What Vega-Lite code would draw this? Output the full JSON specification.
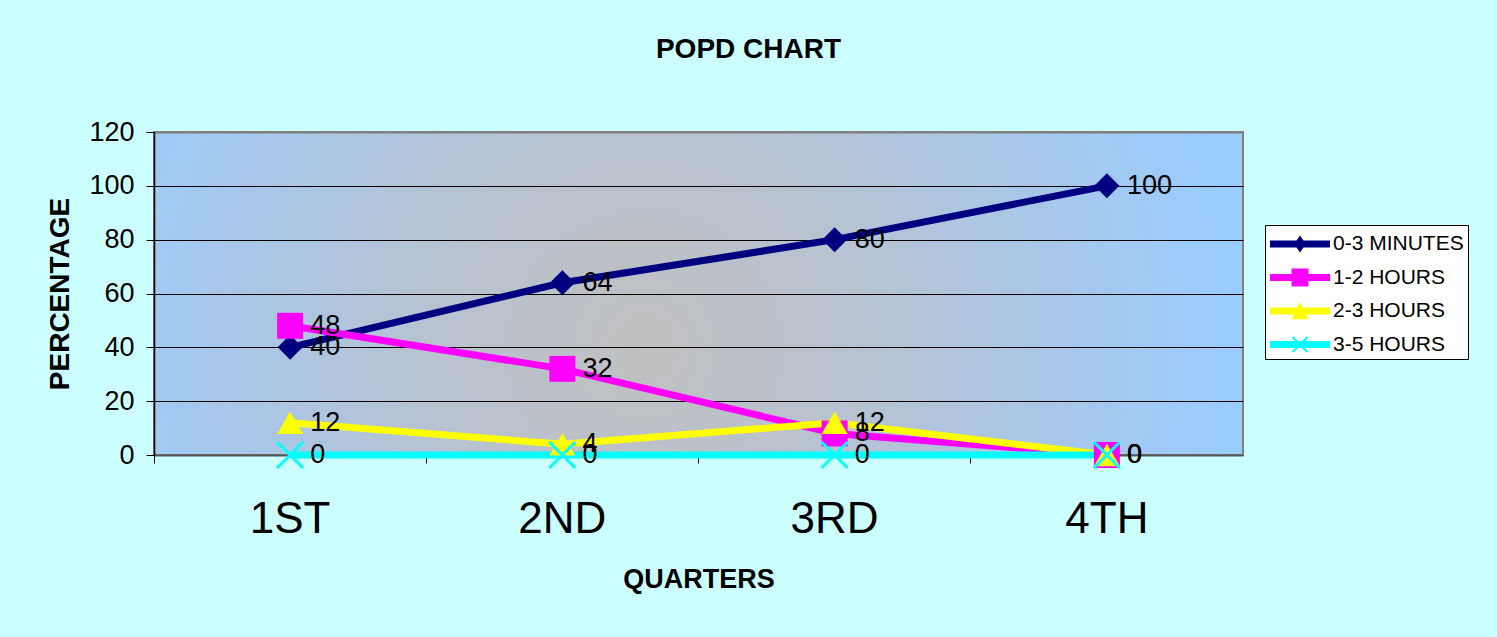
{
  "$schema": "https://vega.github.io/schema/vega-lite/v6.json",
  "width": 1089,
  "height": 323,
  "autosize": {"type": "none"},
  "padding": {"left": 154, "top": 132, "right": 254, "bottom": 182},
  "background": "#CCFFFF",
  "config": {
    "font": "Liberation Sans",
    "view": {
      "fill": {
        "gradient": "radial",
        "x1": 0.45, "y1": 0.55, "r1": 0,
        "x2": 0.45, "y2": 0.55, "r2": 0.55,
        "stops": [
          {"offset": 0, "color": "#C0C0C0"},
          {"offset": 0.35, "color": "#B8C2D0"},
          {"offset": 1, "color": "#99CCFF"}
        ]
      },
      "stroke": "#808080",
      "strokeWidth": 2
    }
  },
  "title": {
    "text": "POPD CHART",
    "fontSize": 28,
    "fontWeight": "bold",
    "color": "#000000",
    "anchor": "middle",
    "dx": 50,
    "offset": 54
  },
  "data": {
    "values": [
      {"quarter": "1ST", "series": "0-3 MINUTES", "value": 40},
      {"quarter": "2ND", "series": "0-3 MINUTES", "value": 64},
      {"quarter": "3RD", "series": "0-3 MINUTES", "value": 80},
      {"quarter": "4TH", "series": "0-3 MINUTES", "value": 100},
      {"quarter": "1ST", "series": "1-2 HOURS", "value": 48},
      {"quarter": "2ND", "series": "1-2 HOURS", "value": 32},
      {"quarter": "3RD", "series": "1-2 HOURS", "value": 8},
      {"quarter": "4TH", "series": "1-2 HOURS", "value": 0},
      {"quarter": "1ST", "series": "2-3 HOURS", "value": 12},
      {"quarter": "2ND", "series": "2-3 HOURS", "value": 4},
      {"quarter": "3RD", "series": "2-3 HOURS", "value": 12},
      {"quarter": "4TH", "series": "2-3 HOURS", "value": 0},
      {"quarter": "1ST", "series": "3-5 HOURS", "value": 0},
      {"quarter": "2ND", "series": "3-5 HOURS", "value": 0},
      {"quarter": "3RD", "series": "3-5 HOURS", "value": 0},
      {"quarter": "4TH", "series": "3-5 HOURS", "value": 0}
    ]
  },
  "encoding": {
    "x": {
      "field": "quarter", "type": "nominal",
      "sort": ["1ST", "2ND", "3RD", "4TH"],
      "scale": {"type": "band", "paddingInner": 0, "paddingOuter": 0},
      "axis": null
    },
    "y": {
      "field": "value", "type": "quantitative",
      "scale": {"domain": [0, 120]},
      "axis": {
        "values": [0, 20, 40, 60, 80, 100, 120],
        "grid": true,
        "gridColor": {"condition": {"test": "datum.value === 120", "value": "#808080"}, "value": "#000000"},
        "gridWidth": {"condition": {"test": "datum.value === 120", "value": 2}, "value": 1},
        "gridOpacity": 1,
        "domainColor": "#000000", "domainWidth": 1.5,
        "tickColor": "#000000", "tickSize": 8, "tickWidth": 1,
        "labelFontSize": 27, "labelPadding": 12, "labelColor": "#000000",
        "title": "PERCENTAGE", "titleFontSize": 28, "titleFontWeight": "bold",
        "titleColor": "#000000", "titlePadding": 14
      }
    }
  },
  "layer": [
    {
      "transform": [{"filter": "datum.series === '0-3 MINUTES'"}],
      "mark": {"type": "line", "color": "#000080", "strokeWidth": 7},
      "encoding": {
        "x": {
          "field": "quarter", "type": "nominal",
          "sort": ["1ST", "2ND", "3RD", "4TH"],
          "scale": {"type": "band", "paddingInner": 0, "paddingOuter": 0},
          "axis": {
            "orient": "bottom",
            "title": null, "labels": false, "ticks": true, "bandPosition": 0,
            "tickSize": 8, "tickColor": "#000000", "tickWidth": 1,
            "domainColor": "#555555", "domainWidth": 2, "grid": false
          }
        }
      }
    },
    {
      "transform": [{"filter": "datum.series === '1-2 HOURS'"}],
      "mark": {"type": "line", "color": "#FF00FF", "strokeWidth": 7}
    },
    {
      "transform": [{"filter": "datum.series === '2-3 HOURS'"}],
      "mark": {"type": "line", "color": "#FFFF00", "strokeWidth": 7}
    },
    {
      "transform": [{"filter": "datum.series === '3-5 HOURS'"}],
      "mark": {"type": "line", "color": "#00FFFF", "strokeWidth": 7}
    },
    {
      "transform": [{"filter": "datum.series === '0-3 MINUTES'"}],
      "mark": {"type": "point", "shape": "diamond", "filled": true, "color": "#000080", "size": 625, "opacity": 1},
      "encoding": {
        "x": {
          "field": "quarter", "type": "nominal",
          "sort": ["1ST", "2ND", "3RD", "4TH"],
          "scale": {"type": "band", "paddingInner": 0, "paddingOuter": 0},
          "axis": {
            "orient": "bottom",
            "title": "QUARTERS", "labels": true, "ticks": false, "domain": false, "grid": false,
            "labelFontSize": 44, "labelPadding": 42, "labelColor": "#000000", "labelAngle": 0,
            "titleFontSize": 27, "titleFontWeight": "bold", "titleColor": "#000000", "titlePadding": 25
          }
        }
      }
    },
    {
      "transform": [{"filter": "datum.series === '1-2 HOURS'"}],
      "mark": {"type": "point", "shape": "square", "filled": true, "color": "#FF00FF", "size": 676, "opacity": 1}
    },
    {
      "transform": [{"filter": "datum.series === '2-3 HOURS'"}],
      "mark": {"type": "point", "shape": "triangle-up", "filled": true, "color": "#FFFF00", "size": 676, "opacity": 1}
    },
    {
      "transform": [{"filter": "datum.series === '3-5 HOURS'"}],
      "mark": {"type": "point", "shape": "M-1,-1L1,1M-1,1L1,-1", "filled": false, "color": "#00FFFF", "size": 676, "strokeWidth": 3, "opacity": 1}
    },
    {
      "mark": {"type": "point", "filled": true, "opacity": 0, "size": 10},
      "encoding": {
        "color": {
          "field": "series", "type": "nominal",
          "scale": {
            "domain": ["0-3 MINUTES", "1-2 HOURS", "2-3 HOURS", "3-5 HOURS"],
            "range": ["#000080", "#FF00FF", "#FFFF00", "#00FFFF"]
          },
          "legend": {
            "orient": "none", "legendX": 1111, "legendY": 93,
            "title": null, "fillColor": "#FFFFFF", "strokeColor": "#000000",
            "padding": 4, "labelFontSize": 21, "labelColor": "#000000", "labelLimit": 300,
            "symbolSize": 900, "symbolOpacity": 1, "symbolStrokeWidth": 0,
            "labelOffset": 34, "rowPadding": 8.5
          }
        },
        "shape": {
          "field": "series", "type": "nominal",
          "scale": {
            "domain": ["0-3 MINUTES", "1-2 HOURS", "2-3 HOURS", "3-5 HOURS"],
            "range": [
              "M-0.933,-0.233H3.067V0.233H-0.933Z M1.067,-0.567L1.467,0L1.067,0.567L0.667,0Z",
              "M-0.933,-0.233H3.067V0.233H-0.933Z M0.5,-0.6H1.634V0.6H0.5Z",
              "M-0.933,-0.233H3.067V0.233H-0.933Z M1.067,-0.6L1.634,0.55H0.5Z",
              "M-0.933,-0.233H3.067V0.233H-0.933Z M0.517,-0.45L0.617,-0.55L1.617,0.45L1.517,0.55Z M1.517,-0.55L1.617,-0.45L0.617,0.55L0.517,0.45Z"
            ]
          },
          "legend": {
            "orient": "none", "legendX": 1111, "legendY": 93,
            "title": null, "fillColor": "#FFFFFF", "strokeColor": "#000000",
            "padding": 4, "labelFontSize": 21, "labelColor": "#000000", "labelLimit": 300,
            "symbolSize": 900, "symbolOpacity": 1, "symbolStrokeWidth": 0,
            "labelOffset": 34, "rowPadding": 8.5
          }
        }
      }
    },
    {
      "mark": {"type": "text", "align": "left", "baseline": "middle", "dx": 20, "fontSize": 27, "color": "#000000"},
      "encoding": {"text": {"field": "value", "type": "quantitative"}}
    }
  ],
  "resolve": {"axis": {"x": "independent"}}
}
